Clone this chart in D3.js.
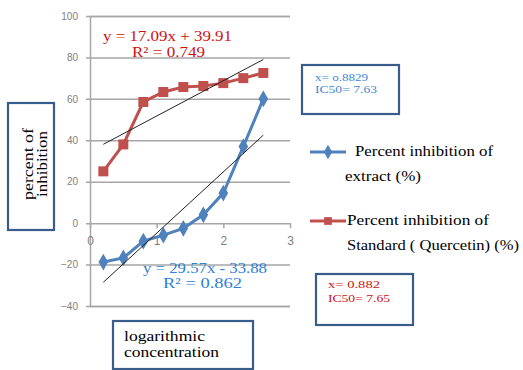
<!DOCTYPE html>
<html>
<head>
<meta charset="utf-8">
<script src="https://cdn.jsdelivr.net/npm/d3@7"></script>
<style>
  body { margin: 0; background: #fff; }
  text { font-family: "Liberation Serif", "Times New Roman", serif; }
  .tick text { font-family: "Liberation Sans", Arial, sans-serif; }
</style>
</head>
<body>
<div id="chart"></div>
<script>
// log concentration
const logConc = [0.2, 0.5, 0.8, 1.1, 1.4, 1.7, 2.0, 2.3, 2.6];
// percent inhibition of extract
const extract = [-18.8, -16.8, -8.7, -5.8, -2.5, 4, 14.5, 37, 60];
// percent inhibition of standard (quercetin)
const standard = [25, 38, 58.5, 63.3, 65.7, 66.2, 67.6, 70, 72.5];
const yTicks = [-40, -20, 0, 20, 40, 60, 80, 100];
const xTicks = [0, 1, 2, 3];

const width = 523, height = 370;
const blue = "#4f81bd", red = "#c0504d";

const svg = d3.select("#chart").append("svg")
  .attr("width", width).attr("height", height);

const x = d3.scaleLinear().domain([0, 3]).range([90, 290]);
const y = d3.scaleLinear().domain([-40, 100]).range([306, 16]);

// gridlines + y axis
svg.append("g")
  .attr("transform", "translate(90,0)")
  .call(d3.axisLeft(y).tickValues(yTicks).tickSize(-200).tickPadding(12).tickFormat(d3.format("d")))
  .call(g => {
    g.select(".domain").attr("stroke", "#a6a6a6").attr("stroke-width", 1.5);
    g.selectAll(".tick line").attr("stroke", "#a6a6a6").attr("stroke-width", 1.5).attr("x1", -4);
    g.selectAll(".tick text").attr("fill", "#7f7f7f").attr("font-size", 10);
  });

// x axis at y = 0
svg.append("g")
  .attr("transform", `translate(0,${y(0)})`)
  .call(d3.axisBottom(x).tickValues(xTicks).tickSize(5).tickPadding(8).tickFormat(d3.format("d")))
  .call(g => {
    g.select(".domain").remove();
    g.selectAll(".tick line").attr("stroke", "#a6a6a6").attr("stroke-width", 1.5);
    g.selectAll(".tick text").attr("fill", "#7f7f7f").attr("font-size", 12);
  });

// trendline (least squares) from the data
function fit(xs, ys) {
  const mx = d3.mean(xs), my = d3.mean(ys);
  const b = d3.sum(xs, (v, i) => (v - mx) * (ys[i] - my)) / d3.sum(xs, v => (v - mx) ** 2);
  return { a: my - b * mx, b };
}
function trend(ys) {
  const f = fit(logConc, ys);
  const x0 = d3.min(logConc), x1 = d3.max(logConc);
  svg.append("line")
    .attr("x1", x(x0)).attr("y1", y(f.a + f.b * x0))
    .attr("x2", x(x1)).attr("y2", y(f.a + f.b * x1))
    .attr("stroke", "#222").attr("stroke-width", 1);
}

const line = d3.line().x(d => x(d[0])).y(d => y(d[1]));

function series(ys, color, shape) {
  const pts = logConc.map((v, i) => [v, ys[i]]);
  svg.append("path").datum(pts)
    .attr("d", line).attr("fill", "none")
    .attr("stroke", color).attr("stroke-width", 3);
  svg.append("g").selectAll("path").data(pts).join("path")
    .attr("transform", d => `translate(${x(d[0])},${y(d[1])})`)
    .attr("d", d3.symbol().type(shape).size(shape === d3.symbolSquare ? 100 : 80))
    .attr("fill", color);
}

series(standard, red, d3.symbolSquare);
series(extract, blue, d3.symbolDiamond);
trend(standard);
trend(extract);

// text helper, stretched to the width seen in the picture
function label(tx, ty, str, size, color, len) {
  return svg.append("text").attr("x", tx).attr("y", ty)
    .attr("font-size", size).attr("fill", color)
    .attr("textLength", len).attr("lengthAdjust", "spacingAndGlyphs")
    .text(str);
}

// equations
label(103, 41, "y = 17.09x + 39.91", 14, "#d01010", 129);
label(132, 57, "R² = 0.749", 14, "#d01010", 73);
label(143, 273, "y = 29.57x - 33.88", 14, "#2e7fd6", 124);
label(163, 288, "R² = 0.862", 14, "#2e7fd6", 79);

// boxes
function box(x0, y0, w, h) {
  svg.append("rect").attr("x", x0).attr("y", y0).attr("width", w).attr("height", h)
    .attr("fill", "#fff").attr("stroke", "#385d8a").attr("stroke-width", 2.2);
}

// y axis title
box(8, 103, 46, 127);
const yt = svg.append("text").attr("transform", "translate(33,164) rotate(-90)")
  .attr("text-anchor", "middle").attr("font-size", 14).attr("fill", "#000");
yt.append("tspan").attr("x", 0).attr("dy", 0)
  .attr("textLength", 72).attr("lengthAdjust", "spacingAndGlyphs").text("percent of");
yt.append("tspan").attr("x", 0).attr("dy", 14)
  .attr("textLength", 66).attr("lengthAdjust", "spacingAndGlyphs").text("inhibition");

// x axis title
box(113, 321, 140, 48);
label(124, 341, "logarithmic", 14, "#000", 81);
label(124, 357, "concentration", 14, "#000", 95);

// IC50 boxes
box(302, 65, 97, 49);
label(315, 81, "x= o.8829", 11, "#3d8ad8", 53);
label(315, 93, "IC50= 7.63", 11, "#3d8ad8", 62);

box(316, 274, 97, 51);
label(328, 288, "x= 0.882", 11, "#d01010", 52);
label(328, 302, "IC50= 7.65", 11, "#d01010", 62);

// legend
const legend = [
  { color: blue, shape: d3.symbolDiamond, y: 152, lines: ["Percent inhibition of", "extract (%)"], tx: [355, 345], len: [138, 76] },
  { color: red, shape: d3.symbolSquare, y: 221, lines: ["Percent inhibition of", "Standard ( Quercetin) (%)"], tx: [347, 347], len: [142, 172] }
];
legend.forEach(l => {
  svg.append("line").attr("x1", 310).attr("x2", 346).attr("y1", l.y).attr("y2", l.y)
    .attr("stroke", l.color).attr("stroke-width", 3);
  svg.append("path").attr("transform", `translate(328,${l.y})`)
    .attr("d", d3.symbol().type(l.shape).size(60)).attr("fill", l.color);
  l.lines.forEach((t, i) => label(l.tx[i], l.y + 4 + i * 25, t, 14, "#000", l.len[i]));
});
</script>
</body>
</html>
